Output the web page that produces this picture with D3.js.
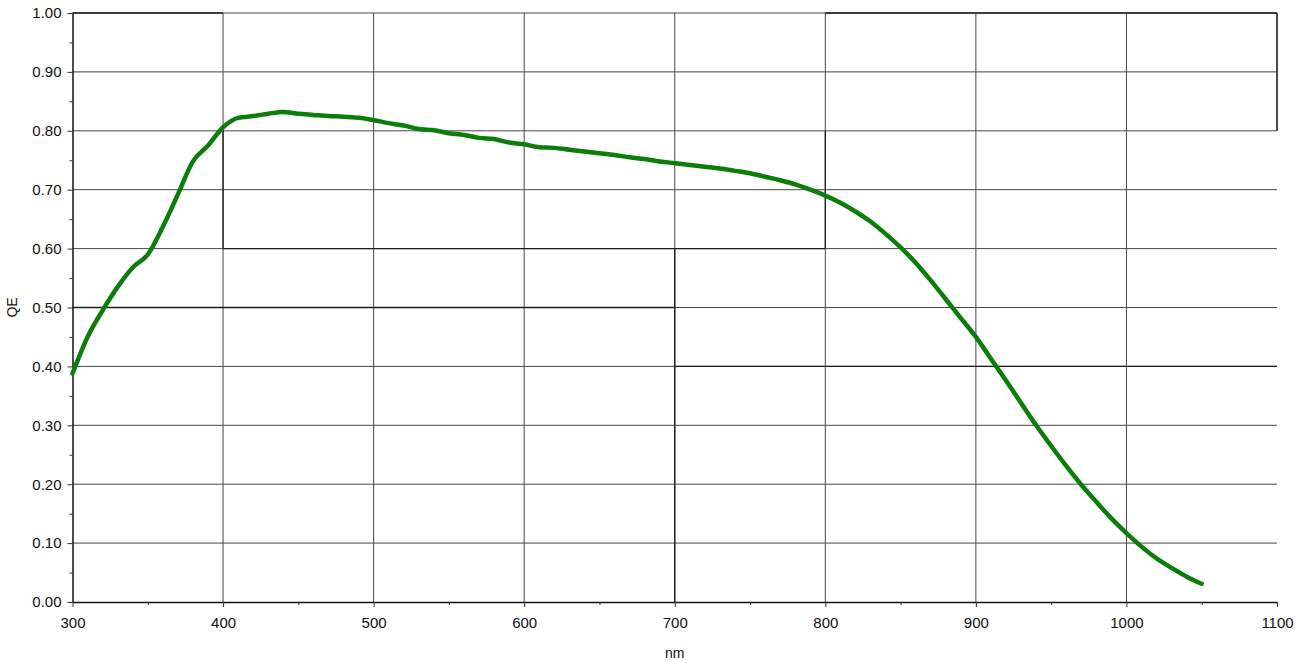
<!DOCTYPE html>
<html>
<head>
<meta charset="utf-8">
<script src="https://cdn.jsdelivr.net/npm/d3@7"></script>
<style>
  body { margin: 0; background: #fff; }
  text { font-family: "Liberation Sans", Arial, sans-serif; fill: #111; }
</style>
</head>
<body>
<div class="chart"></div>
<script>
var wavelengths = [300,310,320,330,340,350,360,370,380,390,400,410,420,430,440,450,460,470,480,490,
  500,510,520,530,540,550,560,570,580,590,600,610,620,630,640,650,660,670,680,690,
  700,710,720,730,740,750,760,770,780,790,800,810,820,830,840,850,860,870,880,890,
  900,910,920,930,940,950,960,970,980,990,1000,1010,1020,1030,1040,1050];
var qeValues = [0.388,0.450,0.495,0.535,0.568,0.590,0.637,0.692,0.748,0.775,0.806,0.822,0.825,0.829,0.832,0.829,0.827,0.825,0.824,0.822,
  0.818,0.813,0.809,0.803,0.801,0.796,0.793,0.788,0.786,0.780,0.777,0.772,0.771,0.768,0.765,0.762,0.759,0.755,0.752,0.748,
  0.745,0.742,0.739,0.736,0.732,0.728,0.722,0.716,0.709,0.700,0.690,0.678,0.663,0.646,0.625,0.602,0.576,0.546,0.514,0.482,
  0.450,0.413,0.376,0.338,0.300,0.265,0.231,0.199,0.170,0.142,0.117,0.094,0.074,0.058,0.043,0.031];

var xTicks = [300,400,500,600,700,800,900,1000,1100];
var xMinorTicks = [350,450,550,650,750,850,950,1050];
var yTicks = [0,0.1,0.2,0.3,0.4,0.5,0.6,0.7,0.8,0.9,1.0];
var yMinorTicks = [0.05,0.15,0.25,0.35,0.45,0.55,0.65,0.75,0.85,0.95];

// tramos de rejilla mas oscuros del original (en unidades de datos)
var darkSegments = [
  [300, 0.5, 700, 0.5],
  [400, 0.6, 800, 0.6],
  [700, 0.4, 1100, 0.4],
  [400, 0.8, 400, 0.6],
  [800, 0.8, 800, 0.6],
  [700, 0.6, 700, 0.0],
  [800, 1.0, 1100, 1.0],
  [300, 1.0, 400, 1.0],
  [1100, 1.0, 1100, 0.8]
];

var width = 1299, height = 663;
var margin = { left: 72.5, right: 22, top: 13, bottom: 61 };

var svg = d3.select(".chart").append("svg")
  .attr("width", width)
  .attr("height", height);

var x = d3.scaleLinear().domain([300, 1100]).range([margin.left, width - margin.right]);
var y = d3.scaleLinear().domain([0, 1]).range([height - margin.bottom, margin.top]);

// Rejilla vertical (la de 1100 solo llega hasta 0.80)
svg.selectAll("line.vgrid")
  .data(xTicks.filter(function(d) { return d > 300; }))
  .enter().append("line")
  .attr("class", "vgrid")
  .attr("x1", function(d) { return x(d); })
  .attr("x2", function(d) { return x(d); })
  .attr("y1", function(d) { return d === 1100 ? y(1) : y(0); })
  .attr("y2", function(d) { return d === 1100 ? y(0.8) : y(1); })
  .attr("stroke", "#484848")
  .attr("stroke-width", 1);

// Rejilla horizontal
svg.selectAll("line.hgrid")
  .data(yTicks.filter(function(d) { return d > 0; }))
  .enter().append("line")
  .attr("class", "hgrid")
  .attr("x1", x(300))
  .attr("x2", x(1100))
  .attr("y1", function(d) { return y(d); })
  .attr("y2", function(d) { return y(d); })
  .attr("stroke", "#484848")
  .attr("stroke-width", 1);

svg.selectAll("line.dark")
  .data(darkSegments)
  .enter().append("line")
  .attr("class", "dark")
  .attr("x1", function(d) { return x(d[0]); })
  .attr("y1", function(d) { return y(d[1]); })
  .attr("x2", function(d) { return x(d[2]); })
  .attr("y2", function(d) { return y(d[3]); })
  .attr("stroke", "#1e1e1e")
  .attr("stroke-width", 1.3);

// Ejes
var xAxis = d3.axisBottom(x).tickValues(xTicks).tickSize(5).tickSizeOuter(0).tickPadding(10)
  .tickFormat(d3.format("d"));
var gx = svg.append("g")
  .attr("transform", "translate(0," + y(0) + ")")
  .call(xAxis);
gx.selectAll("text").style("font-size", "15px");

svg.append("g")
  .attr("transform", "translate(0," + y(0) + ")")
  .call(d3.axisBottom(x).tickValues(xMinorTicks).tickSize(3).tickFormat(""))
  .call(function(g) { g.select(".domain").remove(); });

var yAxis = d3.axisLeft(y).tickValues(yTicks).tickSize(5).tickSizeOuter(0).tickPadding(6)
  .tickFormat(d3.format(".2f"));
var gy = svg.append("g")
  .attr("transform", "translate(" + x(300) + ",0)")
  .call(yAxis);
gy.selectAll("text").style("font-size", "15px");

svg.append("g")
  .attr("transform", "translate(" + x(300) + ",0)")
  .call(d3.axisLeft(y).tickValues(yMinorTicks).tickSize(3).tickFormat(""))
  .call(function(g) { g.select(".domain").remove(); });

svg.selectAll(".domain").attr("stroke", "#111").attr("stroke-width", 1.5);
svg.selectAll(".tick line").attr("stroke", "#333");

// Titulos de ejes
svg.append("text")
  .attr("x", (x(300) + x(1100)) / 2)
  .attr("y", 658)
  .attr("text-anchor", "middle")
  .style("font-size", "14px")
  .text("nm");

svg.append("text")
  .attr("transform", "translate(17," + y(0.5) + ") rotate(-90)")
  .attr("text-anchor", "middle")
  .style("font-size", "14px")
  .text("QE");

// Curva QE
var line = d3.line()
  .x(function(d, i) { return x(wavelengths[i]); })
  .y(function(d) { return y(d); })
  .curve(d3.curveMonotoneX);

svg.append("path")
  .datum(qeValues)
  .attr("fill", "none")
  .attr("stroke", "#0a7d0a")
  .attr("stroke-width", 4.5)
  .attr("stroke-linecap", "round")
  .attr("stroke-linejoin", "round")
  .attr("d", line);
</script>
</body>
</html>
